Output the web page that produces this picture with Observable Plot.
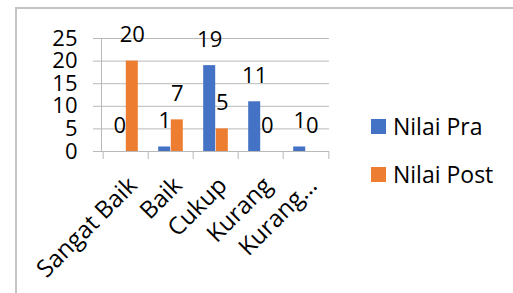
<!DOCTYPE html>
<html>
<head>
<meta charset="utf-8">
<script src="https://cdn.jsdelivr.net/npm/d3@7"></script>
<script src="https://cdn.jsdelivr.net/npm/@observablehq/plot@0.6"></script>
<style>
  html, body { margin: 0; padding: 0; background: #fff; }
  #wrap { position: relative; width: 513px; height: 293px; overflow: hidden; font-family: "Open Sans", sans-serif; }
  #border { position: absolute; left: 15px; top: 7px; width: 600px; height: 400px; border-left: 2px solid #c4c4c4; border-top: 2px solid #c4c4c4; }
  #chart { position: absolute; left: 0; top: 0; }
  #legend { position: absolute; left: 371px; top: 113px; font-size: 23px; color: #000; }
  .item { display: flex; align-items: center; height: 26px; margin-bottom: 22px; }
  .sw { width: 15px; height: 15px; margin-right: 7px; }
</style>
</head>
<body>
<div id="wrap">
  <div id="border"></div>
  <div id="chart"></div>
  <div id="legend"></div>
</div>
<script>
const categories = ["Sangat Baik", "Baik", "Cukup", "Kurang", "Kurang…"];
const seriesNames = ["Nilai Pra", "Nilai Post"];
const nilaiPra = [0, 1, 19, 11, 1];
const nilaiPost = [20, 7, 5, 0, 0];
const colors = ["#4472C4", "#ED7D31"];
const yTicks = [0, 5, 10, 15, 20, 25];

const W = 513, H = 293;
const mL = 101, mR = 184, mT = 38, mB = 142;
const bw = (W - mL - mR) / categories.length;
const barW = 12.6;

const rows = [];
categories.forEach((c, i) => {
  rows.push({cat: c, series: seriesNames[0], value: nilaiPra[i]});
  rows.push({cat: c, series: seriesNames[1], value: nilaiPost[i]});
});
const pra = rows.filter(d => d.series === seriesNames[0]);
const post = rows.filter(d => d.series === seriesNames[1]);
const grid = "#b9b9b9";

const chart = Plot.plot({
  width: W, height: H,
  marginLeft: mL, marginRight: mR, marginTop: mT, marginBottom: mB,
  style: {fontFamily: "'Open Sans', sans-serif", background: "transparent"},
  x: {domain: categories, padding: 0, label: null},
  y: {domain: [0, 25], label: null},
  color: {domain: seriesNames, range: colors},
  marks: [
    Plot.gridY(yTicks, {stroke: grid, strokeOpacity: 1, strokeWidth: 1}),
    Plot.frame({anchor: "left", stroke: grid}),
    Plot.axisY(yTicks, {tickSize: 8, text: null, stroke: grid, strokeOpacity: 1, label: null}),
    Plot.axisY(yTicks, {tickSize: 0, tickPadding: 24, fontSize: 22, fill: "#000", label: null}),
    Plot.barY(pra, {x: "cat", y: "value", fill: "series", insetLeft: bw / 2 - barW, insetRight: bw / 2}),
    Plot.barY(post, {x: "cat", y: "value", fill: "series", insetLeft: bw / 2, insetRight: bw / 2 - barW}),
    Plot.ruleY([0], {stroke: grid}),
    Plot.axisX({tickSize: 8, dx: -bw / 2, text: null, stroke: grid, strokeOpacity: 1, label: null}),
    Plot.axisX([categories[categories.length - 1]], {tickSize: 8, dx: bw / 2, text: null, stroke: grid, strokeOpacity: 1, label: null}),
    Plot.axisX({tickSize: 0, tickPadding: 30, tickRotate: -45, dx: 7, fontSize: 24, fill: "#000", label: null}),
    Plot.text(pra, {x: "cat", y: "value", text: d => String(d.value), dx: -barW / 2, dy: -26, fontSize: 22, fill: "#000"}),
    Plot.text(post, {x: "cat", y: "value", text: d => String(d.value), dx: barW / 2, dy: -26, fontSize: 22, fill: "#000"})
  ]
});
document.getElementById("chart").appendChild(chart);

const legend = document.getElementById("legend");
seriesNames.forEach((s, i) => {
  const item = document.createElement("div");
  item.className = "item";
  const sw = document.createElement("span");
  sw.className = "sw";
  sw.style.background = colors[i];
  const t = document.createElement("span");
  t.textContent = s;
  item.appendChild(sw);
  item.appendChild(t);
  legend.appendChild(item);
});
</script>
</body>
</html>
